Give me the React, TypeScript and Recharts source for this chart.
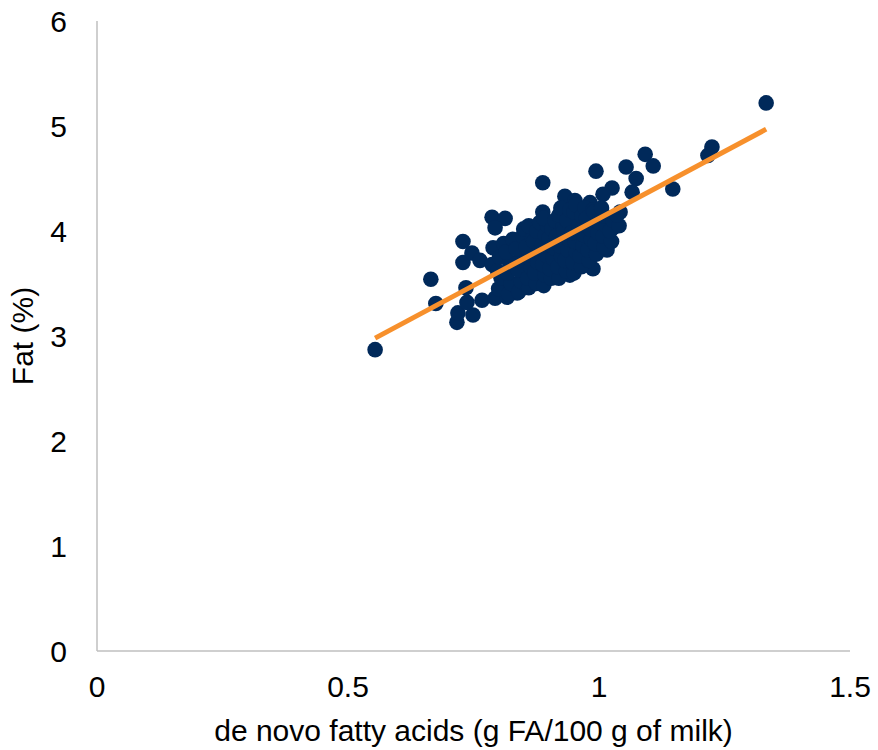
import { ScatterChart, Scatter, XAxis, YAxis } from "recharts";

// de novo FA (g FA/100 g milk) vs fat (%), one entry per cow sample
const denovo = [
  0.554, 0.665, 0.675, 0.717, 0.719, 0.749, 0.737, 0.735, 0.729, 0.729, 0.747, 0.763,
  0.787, 0.813, 0.793, 0.789, 0.787, 0.767, 0.793, 0.817, 0.837, 0.888, 0.888,
  1.225, 1.217, 1.092, 1.108, 1.054, 0.994, 1.074, 1.147, 1.066, 1.026, 1.008,
  0.932, 0.952, 0.982, 1.042, 1.028, 1.016, 0.988, 0.942, 0.908, 0.960, 0.886, 1.333,
  0.80, 0.805, 0.798, 0.802, 0.81,
  0.82, 0.825, 0.818, 0.822, 0.815, 0.828,
  0.84, 0.845, 0.838, 0.842, 0.835, 0.848, 0.85,
  0.86, 0.858, 0.865, 0.862, 0.855, 0.868, 0.86,
  0.875, 0.872, 0.878, 0.88, 0.87, 0.876, 0.882,
  0.89, 0.892, 0.888, 0.895, 0.886, 0.893, 0.898, 0.89,
  0.905, 0.902, 0.908, 0.91, 0.9, 0.906, 0.912,
  0.92, 0.918, 0.925, 0.922, 0.915, 0.928, 0.92, 0.924,
  0.935, 0.932, 0.938, 0.94, 0.93, 0.936, 0.942,
  0.95, 0.948, 0.955, 0.952, 0.945, 0.958, 0.95, 0.954,
  0.965, 0.962, 0.968, 0.97, 0.96, 0.966, 0.972,
  0.98, 0.978, 0.985, 0.982, 0.975, 0.988,
  0.995, 0.992, 0.998, 1.0, 0.99,
  1.01, 1.008, 1.015, 1.012, 1.005,
  1.025, 1.022, 1.028,
  1.04, 1.036,
];
const fat = [
  2.87, 3.54, 3.31, 3.13, 3.22, 3.2, 3.32, 3.46, 3.9, 3.7, 3.79, 3.72,
  4.13, 4.12, 4.03, 3.84, 3.68, 3.34, 3.36, 3.37, 3.41, 4.46, 4.18,
  4.8, 4.72, 4.73, 4.62, 4.61, 4.57, 4.5, 4.4, 4.37, 4.41, 4.35,
  4.33, 4.29, 4.27, 4.18, 4.03, 3.82, 3.64, 3.58, 3.63, 3.68, 3.56, 5.22,
  3.45, 3.55, 3.62, 3.75, 3.88,
  3.4, 3.5, 3.6, 3.7, 3.8, 3.92,
  3.42, 3.52, 3.63, 3.72, 3.83, 3.95, 4.02,
  3.46, 3.55, 3.65, 3.74, 3.85, 3.93, 4.05,
  3.5, 3.6, 3.7, 3.8, 3.9, 4.0, 4.08,
  3.48, 3.58, 3.68, 3.77, 3.86, 3.96, 4.05, 4.12,
  3.55, 3.64, 3.74, 3.84, 3.93, 4.02, 4.1,
  3.55, 3.66, 3.76, 3.86, 3.95, 4.04, 4.15, 4.22,
  3.62, 3.72, 3.82, 3.92, 4.0, 4.1, 4.2,
  3.6, 3.7, 3.8, 3.9, 3.98, 4.08, 4.18, 4.25,
  3.66, 3.76, 3.86, 3.96, 4.05, 4.14, 4.22,
  3.72, 3.82, 3.92, 4.02, 4.12, 4.2,
  3.78, 3.88, 3.98, 4.08, 4.18,
  3.85, 3.95, 4.05, 4.14, 4.22,
  3.9, 4.0, 4.1,
  4.05, 4.15,
];

// linear trendline end points
const trendX = [0.554, 1.333];
const trendY = [2.98, 4.97];

const xTicks = [0, 0.5, 1, 1.5];
const yTicks = [0, 1, 2, 3, 4, 5, 6];

const points = denovo.map((x, i) => ({ x, y: fat[i] }));
const trend = trendX.map((x, i) => ({ x, y: trendY[i] }));

const font = "'Liberation Sans', Arial, sans-serif";
const tickStyle = { fontSize: 30, fill: "#000", fontFamily: font };
const titleStyle = { fontSize: 30, fill: "#000", fontFamily: font };

const Dot = (p: any) => <circle cx={p.cx} cy={p.cy} r={7.8} fill="#00295A" />;
const NoDot = () => <g />;

export default function App() {
  return (
    <div style={{ position: "absolute", left: 0, top: 0, background: "#fff" }}>
      <ScatterChart width={878} height={750} margin={{ top: 21, right: 28, bottom: 0, left: 0 }}>
        <XAxis
          type="number"
          dataKey="x"
          domain={[0, 1.5]}
          ticks={xTicks}
          tickLine={false}
          axisLine={{ stroke: "#bfbfbf", strokeWidth: 1.5 }}
          tick={tickStyle}
          tickMargin={19}
          height={99}
          label={{ value: "de novo fatty acids (g FA/100 g of milk)", position: "insideBottom", offset: 9, style: titleStyle }}
        />
        <YAxis
          type="number"
          dataKey="y"
          domain={[0, 6]}
          ticks={yTicks}
          tickLine={false}
          axisLine={{ stroke: "#bfbfbf", strokeWidth: 1.5 }}
          tick={tickStyle}
          tickMargin={24}
          width={97}
          label={{ value: "Fat (%)", angle: -90, position: "insideLeft", offset: 22, style: { ...titleStyle, textAnchor: "middle" } }}
        />
        <Scatter data={points} shape={Dot} isAnimationActive={false} />
        <Scatter data={trend} line={{ stroke: "#F7902C", strokeWidth: 5 }} shape={NoDot} isAnimationActive={false} />
      </ScatterChart>
    </div>
  );
}
